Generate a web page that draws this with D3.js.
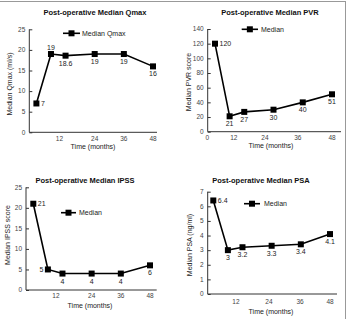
<!DOCTYPE html>
<html>
<head>
<meta charset="utf-8">
<script src="https://cdn.jsdelivr.net/npm/d3@7"></script>
<style>
  body { margin: 0; background: #fff; }
  svg { display: block; font-family: "Liberation Sans", Arial, sans-serif; }
</style>
</head>
<body>
<div id="chart"></div>
<script>
var W = 349, H = 319;

// data (months after surgery)
var months = [0, 6, 12, 24, 36, 48];
var qmax = [7, 19, 18.6, 19, 19, 16];
var pvr = [120, 21, 27, 30, 40, 51];
var ipss = [21, 5, 4, 4, 4, 6];
var psa = [6.4, 3, 3.2, 3.3, 3.4, 4.1];

// where each value label sits relative to its point
var qmaxLabelPos = ['r', 't', 'b', 'b', 'b', 'b'];
var pvrLabelPos = ['r', 'b', 'b', 'b', 'b', 'b'];
var ipssLabelPos = ['r', 'l', 'b', 'b', 'b', 'b'];
var psaLabelPos = ['r', 'b', 'b', 'b', 'b', 'b'];

// x tick labels and the (data-month) spot where the picture puts them
var qmaxTicks = [[9.5, '12'], [24, '24'], [36, '36'], [48, '48']];
var pvrTicks = [[-3.2, '0'], [7.7, '12'], [20.5, '24'], [34, '36'], [48, '48']];
var ipssTicks = [[9.3, '12'], [24, '24'], [36, '36'], [48, '48']];
var psaTicks = [[9.3, '12'], [22.9, '24'], [35.7, '36'], [48, '48']];

var yTicksQmax = [0, 5, 10, 15, 20, 25];
var yTicksPvr = [0, 20, 40, 60, 80, 100, 120, 140];
var yTicksIpss = [0, 5, 10, 15, 20, 25];
var yTicksPsa = [0, 1, 2, 3, 4, 5, 6, 7];

var panels = [
  {
    title: 'Post-operative Median Qmax', ylabel: 'Median Qmax (ml/s)', legend: 'Median Qmax',
    values: qmax, labelPos: qmaxLabelPos, xticks: qmaxTicks, yticks: yTicksQmax, ymax: 25,
    titleX: 95, titleY: 15, x0: 36.4, x1: 153, y0: 132.3, y1: 29.3, axisL: 29.3, axisR: 157,
    ylabX: 10, ylabY: 84, xlabX: 93, xlabY: 149, xtickY: 141, leg: [63, 80, 33.3, 82]
  },
  {
    title: 'Post-operative Median PVR', ylabel: 'Median PVR score', legend: 'Median',
    values: pvr, labelPos: pvrLabelPos, xticks: pvrTicks, yticks: yTicksPvr, ymax: 140,
    titleX: 270, titleY: 15, x0: 215, x1: 332, y0: 131.7, y1: 29, axisL: 207.7, axisR: 341,
    ylabX: 189, ylabY: 82, xlabX: 271, xlabY: 148, xtickY: 139.5, leg: [241.7, 258, 29.3, 261]
  },
  {
    title: 'Post-operative Median IPSS', ylabel: 'Median IPSS score', legend: 'Median',
    values: ipss, labelPos: ipssLabelPos, xticks: ipssTicks, yticks: yTicksIpss, ymax: 25,
    titleX: 85, titleY: 183, x0: 33.3, x1: 150, y0: 290, y1: 187.3, axisL: 26, axisR: 156.7,
    ylabX: 8, ylabY: 235, xlabX: 90, xlabY: 307.5, xtickY: 298, leg: [61, 76, 212.7, 79]
  },
  {
    title: 'Post-operative Median PSA', ylabel: 'Median PSA (ng/ml)', legend: 'Median',
    values: psa, labelPos: psaLabelPos, xticks: psaTicks, yticks: yTicksPsa, ymax: 7,
    titleX: 261, titleY: 183, x0: 213.3, x1: 330, y0: 294, y1: 191.7, axisL: 207.7, axisR: 337,
    ylabX: 190, ylabY: 245, xlabX: 271, xlabY: 314, xtickY: 304, leg: [244, 260, 203.7, 264]
  }
];

var svg = d3.select('#chart')
  .append('svg')
  .attr('width', W)
  .attr('height', H);

// outer frame (top and right edges show in the picture)
svg.append('line').attr('x1', 0).attr('x2', 346).attr('y1', 1.5).attr('y2', 1.5)
  .attr('stroke', '#999').attr('stroke-width', 1);
svg.append('line').attr('x1', 345.5).attr('x2', 345.5).attr('y1', 1).attr('y2', H)
  .attr('stroke', '#999').attr('stroke-width', 1);

panels.forEach(drawPanel);

function drawPanel(p) {
  var x = d3.scaleLinear().domain([0, 48]).range([p.x0, p.x1]);
  var y = d3.scaleLinear().domain([0, p.ymax]).range([p.y0, p.y1]);
  var g = svg.append('g');

  // title
  g.append('text')
    .attr('x', p.titleX).attr('y', p.titleY)
    .attr('text-anchor', 'middle')
    .attr('font-size', 7.5).attr('font-weight', 'bold').attr('fill', '#111')
    .text(p.title);

  // y axis with inward ticks
  var yAxis = d3.axisRight(y).tickValues(p.yticks).tickSize(3).tickFormat('');
  g.append('g')
    .attr('transform', 'translate(' + p.axisL + ',0)')
    .call(yAxis)
    .call(s => s.select('.domain').attr('d', 'M0,' + y(p.ymax) + 'V' + p.y0))
    .call(s => s.selectAll('line, path').attr('stroke', '#333').attr('stroke-width', 1));

  g.selectAll('.ytl')
    .data(p.yticks)
    .join('text')
    .attr('x', p.axisL - 4)
    .attr('y', d => y(d) + 2.3)
    .attr('text-anchor', 'end')
    .attr('font-size', 6.5).attr('fill', '#444')
    .text(d => d);

  // x axis line
  g.append('line')
    .attr('x1', p.axisL).attr('x2', p.axisR)
    .attr('y1', p.y0).attr('y2', p.y0)
    .attr('stroke', '#333').attr('stroke-width', 1);

  g.selectAll('.xtl')
    .data(p.xticks)
    .join('text')
    .attr('x', d => x(d[0]))
    .attr('y', p.xtickY)
    .attr('text-anchor', 'middle')
    .attr('font-size', 6.5).attr('fill', '#444')
    .text(d => d[1]);

  // axis titles
  g.append('text')
    .attr('x', p.xlabX).attr('y', p.xlabY)
    .attr('text-anchor', 'middle')
    .attr('font-size', 7).attr('fill', '#222')
    .text('Time (months)');

  g.append('text')
    .attr('transform', 'translate(' + p.ylabX + ',' + p.ylabY + ') rotate(-90)')
    .attr('text-anchor', 'middle')
    .attr('dy', '0.35em')
    .attr('font-size', 7).attr('fill', '#222')
    .text(p.ylabel);

  // series
  var pts = months.map((m, i) => ({ m: m, v: p.values[i], pos: p.labelPos[i] }));
  var line = d3.line().x(d => x(d.m)).y(d => y(d.v));

  g.append('path')
    .datum(pts)
    .attr('d', line)
    .attr('fill', 'none')
    .attr('stroke', '#000')
    .attr('stroke-width', 1.6);

  g.selectAll('.pt')
    .data(pts)
    .join('rect')
    .attr('x', d => x(d.m) - 3)
    .attr('y', d => y(d.v) - 3)
    .attr('width', 6).attr('height', 6)
    .attr('fill', '#000');

  g.selectAll('.vl')
    .data(pts)
    .join('text')
    .attr('x', d => {
      if (d.pos == 'r') return x(d.m) + 4.5;
      if (d.pos == 'l') return x(d.m) - 4.5;
      return x(d.m);
    })
    .attr('y', d => {
      if (d.pos == 't') return y(d.v) - 4.5;
      if (d.pos == 'b') return y(d.v) + 10;
      return y(d.v) + 2.5;
    })
    .attr('text-anchor', d => d.pos == 'r' ? 'start' : (d.pos == 'l' ? 'end' : 'middle'))
    .attr('font-size', 7).attr('fill', '#222')
    .text(d => d.v);

  // legend
  var lg = p.leg;
  g.append('line')
    .attr('x1', lg[0]).attr('x2', lg[1]).attr('y1', lg[2]).attr('y2', lg[2])
    .attr('stroke', '#000').attr('stroke-width', 1.6);
  g.append('rect')
    .attr('x', (lg[0] + lg[1]) / 2 - 3).attr('y', lg[2] - 3)
    .attr('width', 6).attr('height', 6)
    .attr('fill', '#000');
  g.append('text')
    .attr('x', lg[3]).attr('y', lg[2] + 2.5)
    .attr('font-size', 7).attr('fill', '#222')
    .text(p.legend);
}
</script>
</body>
</html>
